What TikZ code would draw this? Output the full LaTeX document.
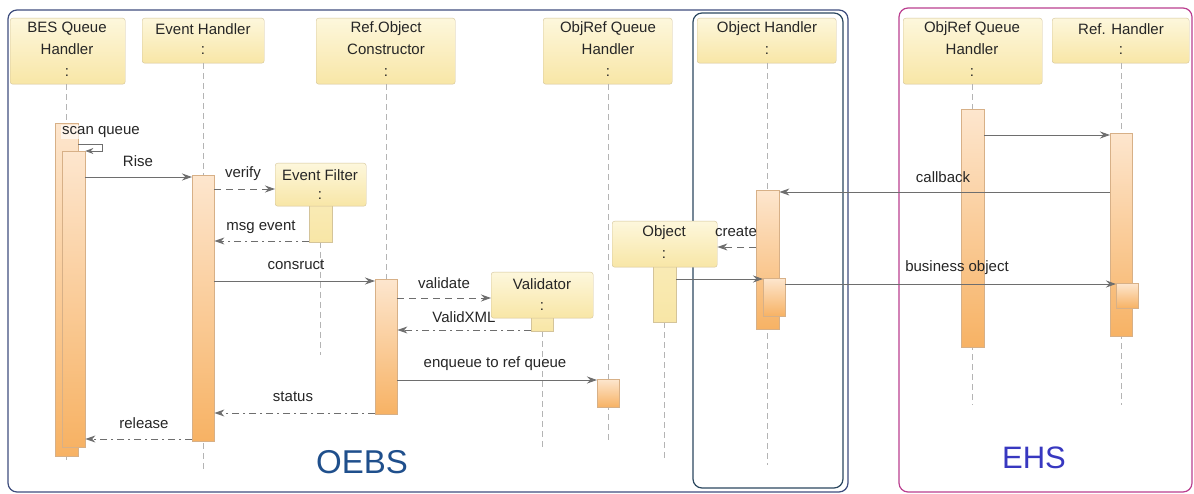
\documentclass[tikz,border=0pt]{standalone}
\usepackage{fontspec}
\setmainfont{Liberation Sans}
\usetikzlibrary{arrows.meta}
\definecolor{txt}{HTML}{262626}
\definecolor{headdraw}{HTML}{D4C49A}
\definecolor{headtop}{HTML}{FDF7DC}
\definecolor{headbot}{HTML}{F8E6A6}
\definecolor{bardraw}{HTML}{D7B087}
\definecolor{bartop}{HTML}{FDE6CE}
\definecolor{barbot}{HTML}{F7B264}
\definecolor{msgcol}{HTML}{6E6E6E}
\definecolor{lifecol}{HTML}{B4B4B4}
\definecolor{oebsframe}{HTML}{3F4E7E}
\definecolor{ohframe}{HTML}{2C4860}
\definecolor{ehsframe}{HTML}{BB3F90}
\definecolor{oebstext}{HTML}{1F4F8C}
\definecolor{ehstext}{HTML}{3838C0}
\tikzset{
  head/.style={draw=headdraw, rounded corners=2.5pt, top color=headtop, bottom color=headbot, inner sep=0pt},
  tabbox/.style={draw=headdraw, top color=headbot!70!headtop, bottom color=headbot, inner sep=0pt},
  bar/.style={draw=bardraw, top color=bartop, bottom color=barbot, inner sep=0pt},
  lbl/.style={text=txt, font=\fontsize{15}{17}\selectfont, inner sep=0pt},
  life/.style={draw=lifecol, dashed, dash pattern=on 6pt off 4pt, line width=0.8pt},
  sync/.style={draw=msgcol, line width=0.9pt, -{Stealth[length=10pt,width=7pt]}},
  dsh/.style={draw=msgcol, line width=0.9pt, dash pattern=on 7pt off 5pt, -{Stealth[length=10pt,width=7pt]}},
  dashdot/.style={draw=msgcol, line width=0.9pt, dash pattern=on 7pt off 4pt on 2pt off 4pt, -{Stealth[length=10pt,width=7pt]}},
  frame/.style={rounded corners=9pt, line width=1.2pt},
}
\newcommand{\boxat}[6]{% style, name, x1,y1,x2,y2
  \node[#1, minimum width=#5-#3, minimum height=#6-#4, anchor=north west] (#2) at (#3,#4) {};}
\begin{document}
\begin{tikzpicture}[x=1pt, y=-1pt]
\useasboundingbox (0,0) rectangle (1194,494);
\fill[white] (0,0) rectangle (1194,494);

% frames
\draw[frame, draw=oebsframe] (8,10) rectangle (848,492);
\draw[frame, draw=ohframe] (693,13) rectangle (843,488);
\draw[frame, draw=ehsframe] (899,8) rectangle (1192,492);

% big labels
\node[text=oebstext, font=\fontsize{33}{35}\selectfont] (oebs) at (362,462) {OEBS};
\node[text=ehstext, font=\fontsize{31}{33}\selectfont] (ehs) at (1034,458) {EHS};

% headers
\boxat{head}{h1}{10}{18}{125}{84}
\boxat{head}{h2}{142}{18}{264}{63}
\boxat{head}{h3}{316}{18}{455}{84}
\boxat{head}{h4}{543}{18}{672}{84}
\boxat{head}{h5}{697}{18}{836}{63}
\boxat{head}{h6}{903}{18}{1042}{84}
\boxat{head}{h7}{1052}{18}{1189}{63}

% lifeline coordinates
\coordinate (l1e) at (66,460);
\coordinate (l2e) at (203,473);
\coordinate (l4e) at (608,443);
\coordinate (l5e) at (767,465);
\coordinate (l6e) at (972,405);
\coordinate (l7e) at (1121,405);
\coordinate (lfe) at (320,355);
\coordinate (lve) at (542,450);
\coordinate (loe) at (664,460);

\draw[life] (h1.south -| l1e) -- (l1e);
\draw[life] (h2.south -| l2e) -- (l2e);
\draw[life] (h3.south -| 386,0) -- (386,279);
\draw[life] (h4.south -| l4e) -- (l4e);
\draw[life] (h5.south -| l5e) -- (l5e);
\draw[life] (h6.south -| l6e) -- (l6e);
\draw[life] (h7.south -| l7e) -- (l7e);
\draw[life] (320,242) -- (lfe);
\draw[life] (542,331) -- (lve);
\draw[life] (664,322) -- (loe);

% header texts
\node[lbl] (t1a) at (67,29) {BES Queue};
\node[lbl] (t1b) at (67,49) {Handler};
\node[lbl] (t1c) at (67,73) {:};
\node[lbl] (t2a) at (203,29) {Event Handler};
\node[lbl] (t2c) at (203,51) {:};
\node[lbl] (t3a) at (386,29) {Ref.Object};
\node[lbl] (t3b) at (386,49) {Constructor};
\node[lbl] (t3c) at (386,73) {:};
\node[lbl] (t4a) at (608,29) {ObjRef Queue};
\node[lbl] (t4b) at (608,49) {Handler};
\node[lbl] (t4c) at (608,73) {:};
\node[lbl] (t5a) at (767,29) {Object Handler};
\node[lbl] (t5c) at (767,51) {:};
\node[lbl] (t6a) at (972,29) {ObjRef Queue};
\node[lbl] (t6b) at (972,49) {Handler};
\node[lbl] (t6c) at (972,73) {:};
\node[lbl] (t7a) at (1121,29) {Ref. Handler};
\node[lbl] (t7c) at (1121,51) {:};

% created objects
\boxat{tabbox}{eft}{309}{200}{332}{242}
\boxat{head}{ef}{275}{163}{366}{206}
\node[lbl] (efa) at (320,175) {Event Filter};
\node[lbl] (efc) at (320,196) {:};

\boxat{tabbox}{vat}{531}{312}{553}{331}
\boxat{head}{va}{491}{272}{593}{318}
\node[lbl] (vaa) at (542,284) {Validator};
\node[lbl] (vac) at (542,307) {:};

\boxat{tabbox}{obt}{653}{260}{676}{322}
\boxat{head}{ob}{612}{221}{717}{267}
\node[lbl] (oba) at (664,233) {Object};
\node[lbl] (obc) at (664,255) {:};

% activation bars
\boxat{bar}{b1}{55}{123}{78}{456}
\boxat{bar}{b2}{62}{151}{85}{447}
\boxat{bar}{b3}{192}{175}{214}{441}
\boxat{bar}{b4}{375}{279}{397}{414}
\boxat{bar}{b5}{597}{379}{619}{407}
\boxat{bar}{b6}{756}{190}{779}{329}
\boxat{bar}{b7}{763}{278}{785}{316}
\boxat{bar}{b8}{961}{109}{984}{347}
\boxat{bar}{b9}{1110}{133}{1132}{336}
\boxat{bar}{b10}{1116}{283}{1138}{308}

% messages
\coordinate (sq) at (102,144);
\draw[sync, -{Stealth[length=8pt,width=6pt]}, line width=0.8pt] (b1.east |- 0,144) -- (sq) -- (sq |- 0,151) -- (b2.east |- 0,151);
\node[lbl, fill=white, fill opacity=0.6, text opacity=1, inner sep=1pt] (l0) at (101,132) {scan queue};

\draw[sync] (b2.east |- 0,177) -- (b3.west |- 0,177);
\node[lbl] (l1) at (138,161) {Rise};

\draw[dsh] (b3.east |- 0,189) -- (ef.west |- 0,189);
\node[lbl] (l2) at (243,174) {verify};

\draw[dashdot] (eft.west |- 0,241) -- (b3.east |- 0,241);
\node[lbl] (l3) at (261,227) {msg event};

\draw[sync] (b3.east |- 0,281) -- (b4.west |- 0,281);
\node[lbl] (l4) at (296,265) {consruct};

\draw[dsh] (b4.east |- 0,298) -- (va.west |- 0,298);
\node[lbl] (l5) at (444,283) {validate};

\draw[dashdot] (vat.west |- 0,330) -- (b4.east |- 0,330);
\node[lbl] (l6) at (464,317) {ValidXML};

\draw[sync] (b4.east |- 0,380) -- (b5.west |- 0,380);
\node[lbl] (l7) at (495,364) {enqueue to ref queue};

\draw[dashdot] (b4.west |- 0,413) -- (b3.east |- 0,413);
\node[lbl] (l8) at (293,397) {status};

\draw[dashdot] (b3.west |- 0,439) -- (b2.east |- 0,439);
\node[lbl] (l9) at (144,423) {release};

\draw[sync] (b8.east |- 0,135) -- (b9.west |- 0,135);

\draw[sync] (b9.west |- 0,192) -- (b6.east |- 0,192);
\node[lbl] (l10) at (943,177) {callback};

\draw[dsh] (b6.west |- 0,247) -- (ob.east |- 0,247);
\node[lbl] (l11) at (736,232) {create};

\draw[sync] (obt.east |- 0,279) -- (b7.west |- 0,279);

\draw[sync] (b7.east |- 0,284) -- (b10.west |- 0,284);
\node[lbl] (l12) at (957,268) {business object};

\end{tikzpicture}
\end{document}
